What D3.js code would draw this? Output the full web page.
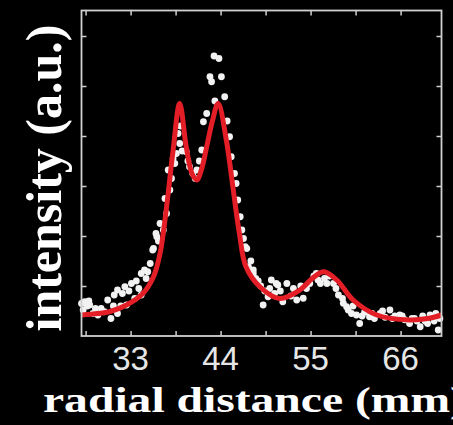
<!DOCTYPE html>
<html>
<head>
<meta charset="utf-8">
<script src="https://cdn.jsdelivr.net/npm/d3@7/dist/d3.min.js"></script>
<style>
  html, body { margin: 0; padding: 0; background: #000; }
  svg { display: block; }
</style>
</head>
<body>
<svg id="chart" width="453" height="425"></svg>
<script>
// Measured intensity profile (white dots)
const radial = [27.0, 27.2, 27.4, 27.7, 27.9, 28.0, 28.4, 28.7, 29.0, 29.4, 29.8, 30.2, 30.6, 30.9, 31.0, 31.4, 31.4,
  31.8, 32.0, 32.3, 32.5, 32.8, 33.1, 33.5, 33.7, 34.0, 34.3, 34.3, 34.7, 34.9, 35.1, 35.4, 35.7, 35.8, 36.1, 36.2,
  36.4, 36.6, 37.0, 37.2, 37.4, 37.6, 37.8, 38.0, 38.2, 38.4, 38.6, 38.8, 39.0, 39.1, 39.3, 39.8, 40.0, 40.2, 40.6,
  40.9, 41.1, 41.4, 41.7, 41.9, 42.3, 42.7, 42.9, 43.2, 43.3, 43.8, 44.1, 44.5, 44.8, 45.1, 45.3, 45.7, 45.9, 46.1,
  46.4, 46.6, 46.8, 47.0, 47.2, 47.4, 47.7, 48.0, 48.0, 48.3, 48.6, 48.9, 49.2, 49.4, 49.8, 50.0, 50.2, 50.6, 50.8,
  51.0, 51.3, 51.6, 52.1, 52.6, 52.9, 53.3, 53.8, 54.1, 54.5, 54.9, 55.4, 55.7, 55.9, 56.2, 56.7, 57.0, 57.3, 57.8,
  58.1, 58.4, 58.9, 59.0, 59.4, 59.6, 60.0, 60.2, 60.6, 61.0, 61.3, 61.6, 62.2, 62.5, 62.8, 63.5, 63.8, 64.1, 64.7,
  65.0, 65.3, 65.9, 66.2, 66.5, 67.1, 67.4, 67.7, 68.0, 68.4, 68.7, 69.0, 69.3, 69.6, 70.1, 70.3, 70.6, 70.8];
const intensity = [0.13, 0.104, 0.137, 0.12, 0.14, 0.124, 0.09, 0.11, 0.084, 0.11, 0.097, 0.144, 0.07, 0.12, 0.164, 0.184, 0.09,
  0.12, 0.17, 0.197, 0.124, 0.18, 0.21, 0.15, 0.22, 0.19, 0.164, 0.25, 0.264, 0.23, 0.257, 0.29, 0.344, 0.35, 0.41, 0.397,
  0.38, 0.45, 0.424, 0.55, 0.49, 0.664, 0.584, 0.63, 0.71, 0.69, 0.73, 0.81, 0.77, 0.84, 0.74, 0.737, 0.70, 0.677, 0.65,
  0.63, 0.664, 0.70, 0.744, 0.857, 0.89, 1.037, 1.017, 1.12, 0.94, 1.11, 1.037, 0.957, 0.86, 0.797, 0.717, 0.65, 0.61, 0.544,
  0.477, 0.424, 0.39, 0.357, 0.35, 0.277, 0.30, 0.25, 0.264, 0.23, 0.22, 0.20, 0.124, 0.18, 0.157, 0.19, 0.224, 0.17, 0.21,
  0.204, 0.18, 0.137, 0.21, 0.16, 0.19, 0.144, 0.20, 0.151, 0.19, 0.21, 0.24, 0.25, 0.224, 0.21, 0.23, 0.21, 0.24, 0.21,
  0.19, 0.164, 0.15, 0.131, 0.117, 0.104, 0.09, 0.12, 0.084, 0.05, 0.08, 0.095, 0.077, 0.09, 0.07, 0.09, 0.10, 0.075, 0.104,
  0.07, 0.08, 0.084, 0.08, 0.065, 0.05, 0.07, 0.07, 0.06, 0.037, 0.08, 0.06, 0.05, 0.084, 0.06, 0.09, 0.024, 0.07];

// Fitted profile (red curve)
const fitRadial = [27, 29, 30.4, 32.5, 34.5, 35.8, 36.6, 37.4, 38.2, 39.0, 39.8, 40.5, 41.1, 41.7, 42.3, 43.0,
  43.7, 44.7, 45.5, 46.3, 47.1, 48.8, 51.2, 53.7, 55.2, 56.6, 58.2, 60.2, 63.1, 67.1, 69.5, 71];
const fitIntensity = [0.084, 0.09, 0.097, 0.124, 0.17, 0.237, 0.33, 0.517, 0.744, 0.93, 0.757, 0.65, 0.624, 0.67, 0.757, 0.86,
  0.93, 0.784, 0.597, 0.41, 0.277, 0.197, 0.15, 0.184, 0.23, 0.257, 0.224, 0.144, 0.084, 0.064, 0.071, 0.084];

// Axis ticks
const xTicks = [27.5, 33, 38.5, 44, 49.5, 55, 60.5, 66];
const xTickLabels = [33, 44, 55, 66];
const yTicks = [0.2, 0.4, 0.6, 0.8, 1.0, 1.2];

const svg = d3.select("#chart");
const plotLeft = 81.5, plotRight = 441.5, plotTop = 10.5, plotBottom = 336;

const x = d3.scaleLinear().domain([27, 71]).range([plotLeft, plotRight]);
const y = d3.scaleLinear().domain([0, 1.3]).range([plotBottom, plotBottom - 325]);

svg.append("rect").attr("width", 453).attr("height", 425).attr("fill", "#000");

// Data points
svg.append("g")
  .selectAll("circle")
  .data(radial.map((r, i) => [r, intensity[i]]))
  .join("circle")
  .attr("cx", d => x(d[0]))
  .attr("cy", d => y(d[1]))
  .attr("r", 3.4)
  .attr("fill", "#f2f2f2");

// Fit curve
const line = d3.line()
  .x(d => x(d[0]))
  .y(d => y(d[1]))
  .curve(d3.curveCatmullRom.alpha(0.5));

svg.append("path")
  .datum(fitRadial.map((r, i) => [r, fitIntensity[i]]))
  .attr("d", line)
  .attr("fill", "none")
  .attr("stroke", "#e41e26")
  .attr("stroke-width", 5)
  .attr("stroke-linejoin", "round");

// Boxed frame with inward ticks on all sides
const frameColor = "#d0d0d0";
svg.append("g").attr("transform", `translate(0,${plotBottom})`)
  .call(d3.axisBottom(x).tickValues(xTicks).tickSize(-5).tickFormat(""))
  .call(g => g.select(".domain").remove());
svg.append("g").attr("transform", `translate(0,${plotTop})`)
  .call(d3.axisTop(x).tickValues(xTicks).tickSize(-5).tickFormat(""))
  .call(g => g.select(".domain").remove());
svg.append("g").attr("transform", `translate(${plotLeft},0)`)
  .call(d3.axisLeft(y).tickValues(yTicks).tickSize(-5).tickFormat(""))
  .call(g => g.select(".domain").remove());
svg.append("g").attr("transform", `translate(${plotRight},0)`)
  .call(d3.axisRight(y).tickValues(yTicks).tickSize(-5).tickFormat(""))
  .call(g => g.select(".domain").remove());
svg.selectAll(".tick line").attr("stroke", frameColor).attr("stroke-width", 1.5);

svg.append("rect")
  .attr("x", plotLeft).attr("y", plotTop)
  .attr("width", plotRight - plotLeft).attr("height", plotBottom - plotTop)
  .attr("fill", "none")
  .attr("stroke", frameColor)
  .attr("stroke-width", 1.8);

// Tick labels
svg.append("g")
  .selectAll("text")
  .data(xTickLabels)
  .join("text")
  .attr("x", d => x(d))
  .attr("y", 370)
  .attr("text-anchor", "middle")
  .attr("font-family", "'Liberation Sans', Arial, sans-serif")
  .attr("font-size", 33)
  .attr("fill", "#e6e6e6")
  .text(d => d);

// Axis titles
svg.append("text")
  .attr("transform", "translate(43,412) scale(1.36,1)")
  .attr("font-family", "'Liberation Serif', 'Times New Roman', serif")
  .attr("font-weight", "bold")
  .attr("font-size", 35)
  .attr("fill", "#fff")
  .text("radial distance (mm)");

svg.append("text")
  .attr("transform", "translate(61,178) rotate(-90)")
  .attr("text-anchor", "middle")
  .attr("font-family", "'Liberation Serif', 'Times New Roman', serif")
  .attr("font-weight", "bold")
  .attr("font-size", 50)
  .attr("fill", "#fff")
  .text("intensity (a.u.)");
</script>
</body>
</html>
